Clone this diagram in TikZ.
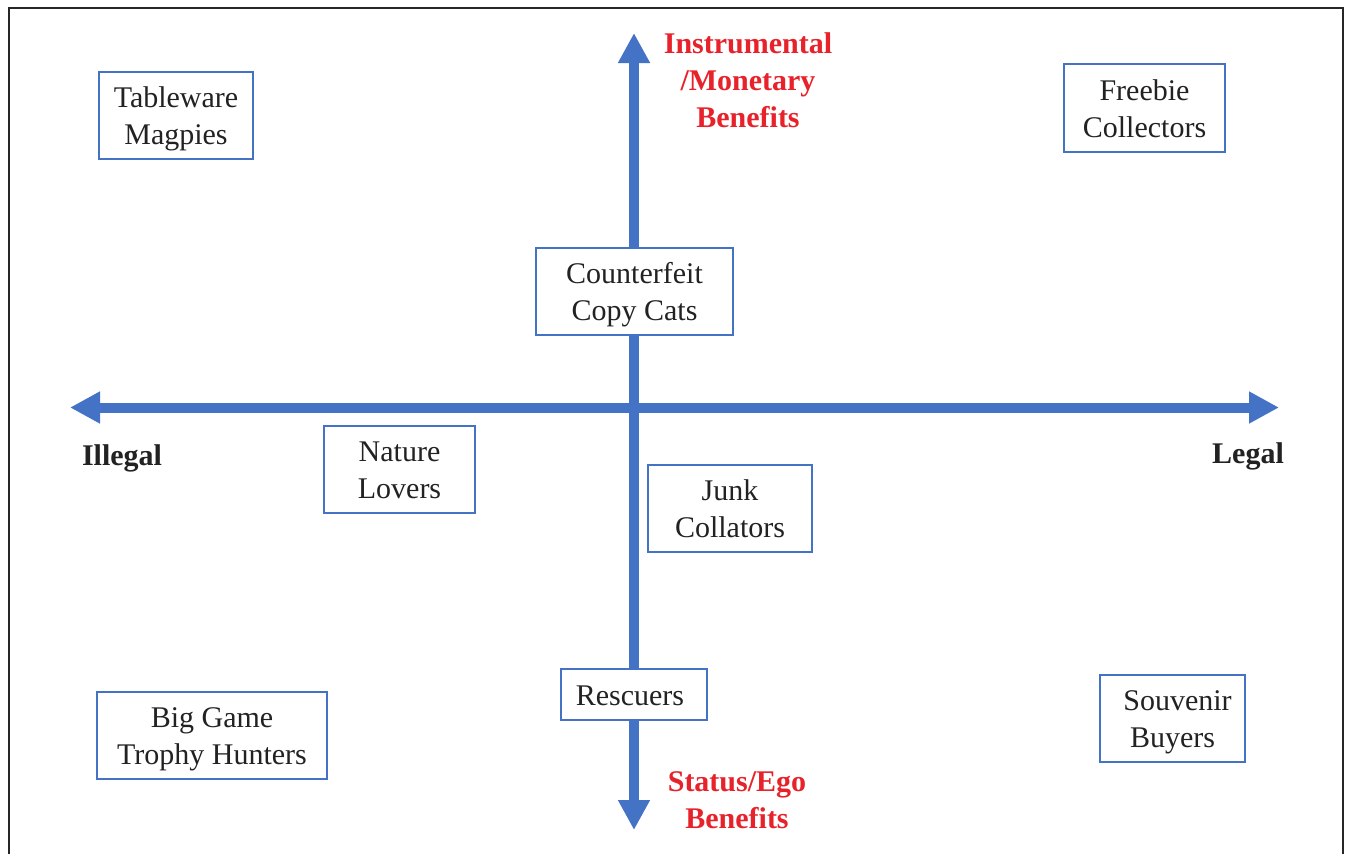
\documentclass[tikz,border=0pt]{standalone}
\usepackage{fontspec}
\setmainfont{Liberation Serif}
\usetikzlibrary{arrows.meta}
\definecolor{axisblue}{HTML}{4472C4}
\definecolor{labred}{HTML}{E8222A}
\definecolor{txtgray}{HTML}{222222}
\tikzset{
  axisline/.style={draw=axisblue, line width=10pt,
    {Triangle[length=30pt,width=30pt]}-{Triangle[length=30pt,width=30pt]}},
  catbox/.style={draw=axisblue, line width=1.3pt, fill=white, inner sep=0pt,
    align=center, text=txtgray, font=\fontsize{30}{37}\selectfont,
    text height=58pt, text depth=0pt},
  axlabel/.style={inner sep=0pt, align=center, font=\fontsize{30}{37}\selectfont\bfseries},
  framestyle/.style={draw=black!85, line width=1.2pt}
}
\begin{document}
\begin{tikzpicture}[x=1pt,y=-1pt]
\useasboundingbox (0,0) rectangle (1345,854);
\fill[white] (0,0) rectangle (1345,854);
% frame
\coordinate (fbl) at (9,854);
\coordinate (ftl) at (9,8);
\coordinate (ftr) at (1343,8);
\coordinate (fbr) at (1343,854);
\draw[framestyle] (fbl) -- (ftl) -- (ftr) -- (fbr);
% axes
\coordinate (xl) at (70,407.5);
\coordinate (xr) at (1279,407.5);
\coordinate (yt) at (634,33);
\coordinate (yb) at (634,830);
\draw[axisline] (xl) -- (xr);
\draw[axisline] (yb) -- (yt);
% boxes
\node[catbox, minimum width=154pt, minimum height=87pt] (tm) at (176,115.5) {Tableware\\Magpies};
\node[catbox, minimum width=161pt, minimum height=88pt] (fc) at (1144.5,108) {Freebie\\Collectors};
\node[catbox, minimum width=197pt, minimum height=87pt] (cc) at (634.5,291.5) {Counterfeit\\Copy Cats};
\node[catbox, minimum width=151pt, minimum height=87pt] (nl) at (399.5,469.5) {Nature\\Lovers};
\node[catbox, minimum width=164pt, minimum height=87pt] (jc) at (730,508.5) {Junk\\Collators};
\node[catbox, minimum width=146pt, minimum height=51pt, text height=21pt] (rs) at (634,694.5) {Rescuers\hspace{8pt}};
\node[catbox, minimum width=230pt, minimum height=87pt] (bg) at (212,735.5) {Big Game\\Trophy Hunters};
\node[catbox, minimum width=145pt, minimum height=87pt] (sb) at (1172.5,718.5) {\hspace{10pt}Souvenir\\Buyers};
% axis labels
\node[axlabel, text=labred, anchor=base] (im) at (748,127) {Instrumental\\/Monetary\\Benefits};
\node[axlabel, text=labred, anchor=base] (se) at (737,828) {Status/Ego\\Benefits};
\node[axlabel, text=txtgray, anchor=base] (il) at (122,465) {Illegal};
\node[axlabel, text=txtgray, anchor=base] (lg) at (1248,463) {Legal};
\end{tikzpicture}
\end{document}
